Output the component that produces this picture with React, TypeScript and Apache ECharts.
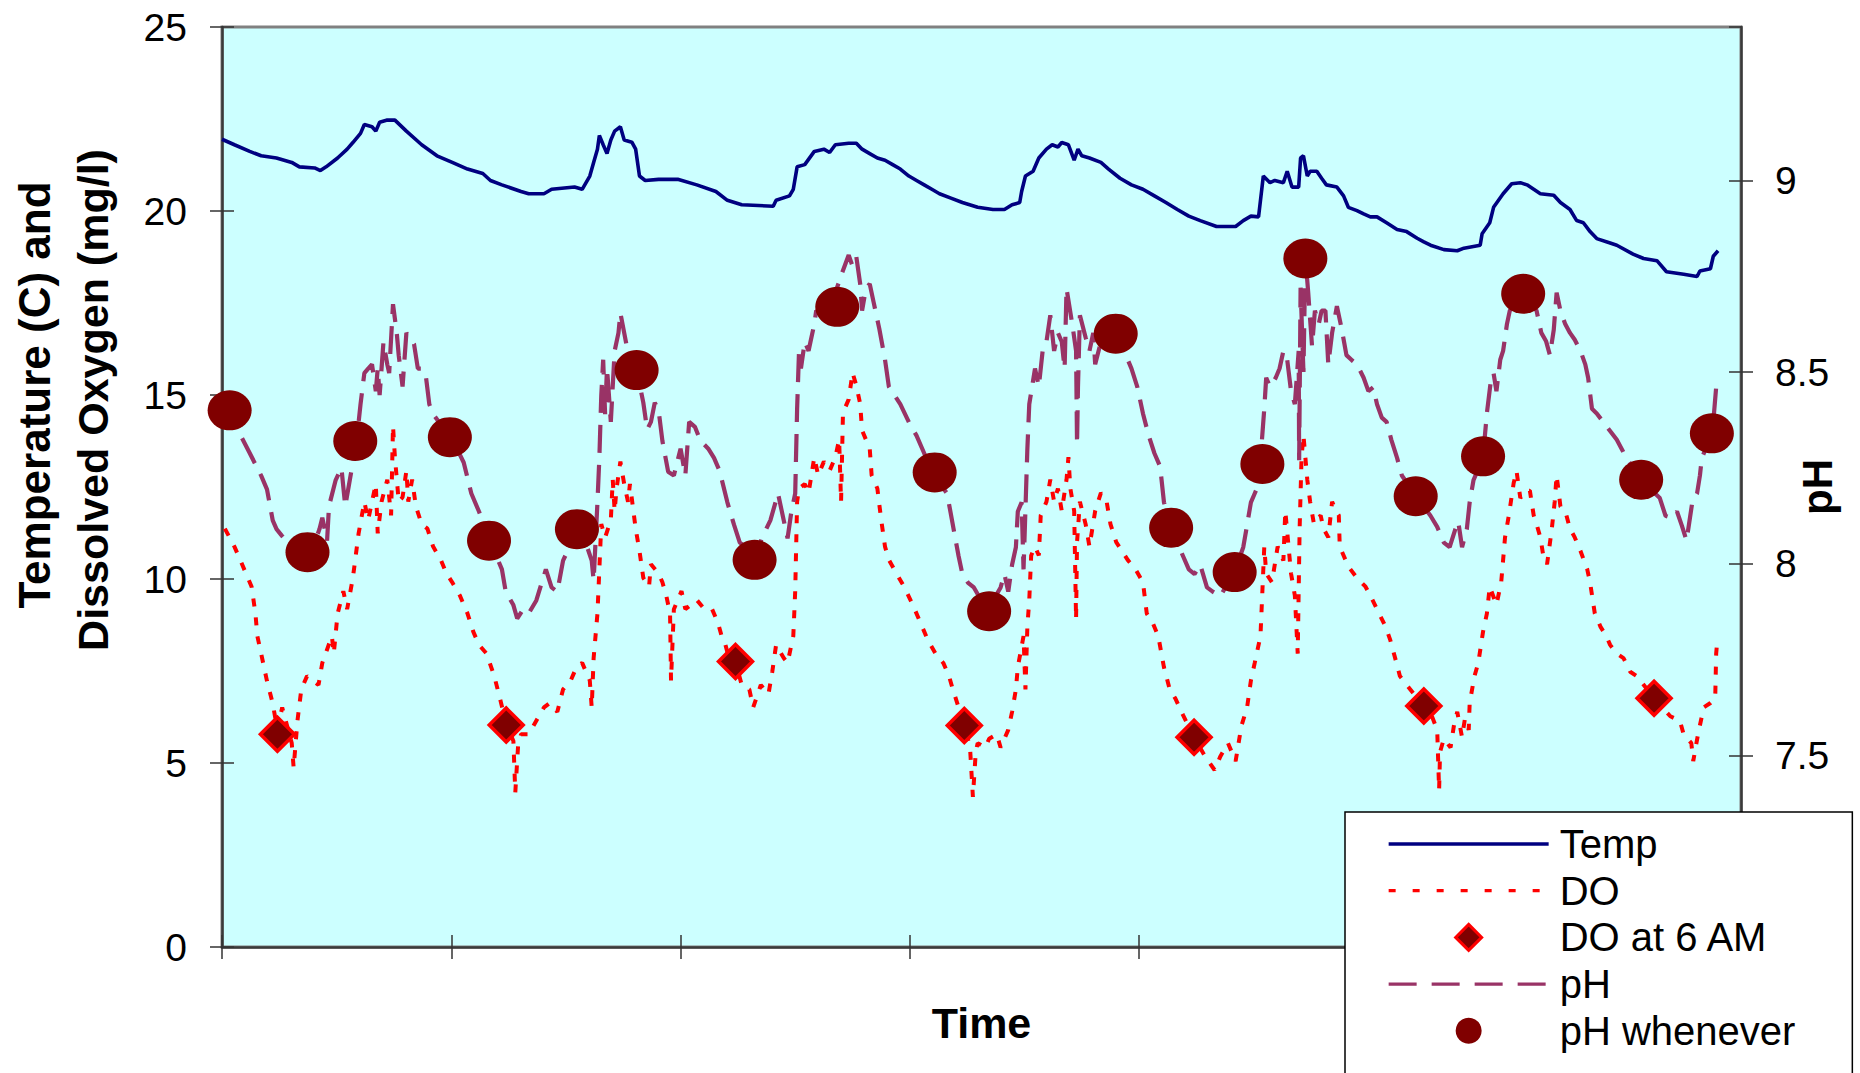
import React, { useEffect, useRef } from "react";
import * as echarts from "echarts";

// Time axis is in hours from the start of the record (one tick per day)
const dayTicks = [0, 24, 48, 72, 96, 120, 144];
const leftTicks = [0, 5, 10, 15, 20, 25];
const phTicks = [7.5, 8, 8.5, 9];

const seriesNames = ["Temp", "DO", "DO at 6 AM", "pH", "pH whenever"];

// Temperature (C): [hour, value]
const tempData: number[][] = [
  [0, 21.95], [1.3, 21.8], [2.9, 21.62], [4.1, 21.5], [5.7, 21.44], [7.3, 21.32], [8.1, 21.2], [9.7, 21.17],
  [10.3, 21.1], [10.9, 21.2], [12.1, 21.44], [13.1, 21.68], [13.7, 21.86], [14.5, 22.11], [14.9, 22.35],
  [15.7, 22.29], [16.1, 22.17], [16.5, 22.41], [17.3, 22.47], [18.1, 22.47], [19.3, 22.17], [20.9, 21.8],
  [22.5, 21.5], [24.1, 21.32], [25.7, 21.14], [27.3, 21.02], [28.1, 20.83], [29.3, 20.71], [31.3, 20.53],
  [32.1, 20.47], [33.7, 20.47], [34.5, 20.59], [36.9, 20.65], [37.7, 20.59], [38.5, 20.95], [38.9, 21.32],
  [39.3, 21.68], [39.5, 22.05], [39.9, 21.8], [40.3, 21.56], [40.7, 21.93], [41.1, 22.17], [41.7, 22.29],
  [42.1, 21.93], [42.9, 21.87], [43.3, 21.68], [43.7, 20.95], [44.3, 20.83], [45.7, 20.86], [47.7, 20.86],
  [49.7, 20.71], [51.7, 20.53], [52.9, 20.29], [54.4, 20.17], [57.7, 20.13], [58.0, 20.29], [59.4, 20.41],
  [59.8, 20.59], [60.2, 21.2], [61.0, 21.26], [62.0, 21.62], [63.0, 21.68], [63.6, 21.59], [64.2, 21.8],
  [65.6, 21.84], [66.4, 21.84], [67.0, 21.68], [67.8, 21.56], [68.6, 21.44], [69.4, 21.38], [70.2, 21.26],
  [71.0, 21.14], [71.9, 20.95], [72.7, 20.83], [73.5, 20.71], [74.3, 20.59], [75.1, 20.47], [76.3, 20.35],
  [77.5, 20.23], [79.1, 20.1], [80.7, 20.04], [81.9, 20.04], [82.7, 20.17], [83.5, 20.23], [83.7, 20.53],
  [84.1, 20.95], [84.9, 21.08], [85.5, 21.44], [86.3, 21.68], [86.9, 21.8], [87.5, 21.74], [87.9, 21.86],
  [88.6, 21.8], [89.2, 21.38], [89.6, 21.68], [90.0, 21.5], [90.8, 21.44], [92.0, 21.32], [92.8, 21.14],
  [94.0, 20.89], [95.2, 20.71], [96.4, 20.59], [97.6, 20.41], [98.8, 20.23], [100.0, 20.04], [101.2, 19.86],
  [102.4, 19.74], [104.1, 19.58], [106.1, 19.58], [106.9, 19.74], [107.7, 19.86], [108.5, 19.84],
  [109.0, 20.95], [109.7, 20.77], [110.2, 20.83], [111.1, 20.77], [111.5, 21.08], [112.0, 20.65],
  [112.7, 20.65], [112.9, 21.44], [113.2, 21.5], [113.6, 20.95], [113.9, 21.08], [114.6, 21.08],
  [115.1, 20.89], [115.6, 20.71], [116.7, 20.65], [117.4, 20.41], [117.9, 20.1], [118.8, 20.01],
  [119.5, 19.92], [120.2, 19.84], [120.9, 19.84], [121.9, 19.68], [123.0, 19.5], [124.0, 19.44],
  [125.1, 19.26], [125.8, 19.16], [126.5, 19.07], [127.9, 18.95], [129.3, 18.92], [130.0, 18.99],
  [131.7, 19.07], [131.9, 19.38], [132.7, 19.68], [133.1, 20.1], [134.1, 20.47], [135.0, 20.74],
  [135.9, 20.77], [136.6, 20.71], [137.3, 20.59], [138.0, 20.47], [139.4, 20.43], [140.1, 20.23],
  [141.1, 20.04], [141.8, 19.74], [142.5, 19.68], [143.2, 19.44], [143.9, 19.25], [145.3, 19.13],
  [146.0, 19.07], [147.7, 18.83], [148.8, 18.71], [150.2, 18.65], [151.2, 18.35], [153.0, 18.28],
  [154.4, 18.22], [154.7, 18.37], [155.8, 18.43], [156.1, 18.77], [156.6, 18.92],
];

// Dissolved oxygen (mg/l): [hour, value]
const doData: number[][] = [
  [0.3, 11.37], [1.3, 10.88], [2.1, 10.4], [3.1, 9.79], [3.5, 9.06], [3.7, 8.45], [4.1, 7.97], [4.7, 7.24],
  [5.3, 6.63], [5.8, 5.9], [6.3, 6.51], [7.3, 5.54], [7.5, 4.87], [7.9, 6.15], [8.3, 7.0], [8.9, 7.36],
  [10.1, 7.12], [10.5, 7.72], [11.5, 8.45], [11.7, 7.97], [12.1, 9.06], [12.7, 9.67], [13.1, 9.18],
  [13.7, 10.03], [14.3, 11.24], [14.9, 12.1], [15.3, 11.6], [15.7, 12.1], [16.1, 12.58], [16.3, 11.24],
  [16.7, 12.1], [17.3, 12.7], [17.7, 11.73], [17.9, 14.16], [18.1, 13.31], [18.5, 12.1], [18.9, 12.22],
  [19.3, 12.94], [19.5, 12.1], [19.9, 12.7], [20.3, 11.97], [20.9, 11.49], [21.5, 11.37], [22.1, 10.88],
  [22.9, 10.52], [23.5, 10.15], [24.1, 9.91], [24.9, 9.55], [25.7, 9.06], [26.3, 8.57], [26.9, 8.21],
  [27.7, 7.97], [28.5, 7.36], [29.1, 6.75], [29.75, 6.05], [30.5, 5.6], [30.7, 4.2], [31.0, 5.5],
  [31.3, 5.78], [32.1, 5.78], [32.9, 6.15], [33.7, 6.51], [34.3, 6.63], [35.1, 6.39], [35.7, 7.0],
  [36.5, 7.24], [37.1, 7.6], [37.7, 7.72], [38.5, 7.24], [38.7, 6.51], [38.9, 7.85], [39.3, 9.06],
  [39.5, 10.27], [39.7, 11.49], [40.1, 11.13], [40.7, 11.6], [40.9, 12.7], [41.1, 11.85], [41.3, 12.46],
  [41.7, 13.19], [42.1, 12.58], [42.5, 12.1], [42.7, 12.58], [43.3, 11.37], [43.7, 10.76], [44.1, 10.03],
  [44.7, 9.79], [44.9, 10.4], [45.7, 10.15], [46.1, 9.91], [46.5, 9.55], [46.9, 9.06], [47.0, 7.24],
  [47.3, 9.18], [48.1, 9.67], [48.5, 9.18], [49.1, 9.3], [49.7, 9.43], [50.5, 9.18], [51.3, 9.18],
  [51.9, 8.82], [52.3, 8.45], [52.7, 8.21], [53.2, 7.72], [53.75, 7.76], [54.4, 7.12], [55.2, 7.0],
  [55.6, 6.51], [56.4, 7.12], [57.2, 6.87], [57.6, 7.48], [58.0, 8.21], [58.8, 7.85], [59.2, 7.72],
  [59.8, 8.45], [60.0, 9.67], [60.2, 12.1], [60.4, 12.46], [61.0, 12.58], [61.4, 12.34], [62.0, 13.31],
  [62.4, 12.82], [63.0, 13.19], [63.6, 12.94], [64.2, 13.31], [64.6, 13.79], [64.8, 12.1], [65.0, 14.52],
  [65.6, 14.88], [66.0, 15.61], [66.4, 15.25], [66.8, 14.76], [67.0, 14.04], [67.4, 13.79], [67.8, 13.55],
  [68.0, 12.82], [68.6, 12.46], [69.0, 11.61], [69.4, 10.88], [69.8, 10.52], [70.6, 10.15], [71.4, 9.79],
  [72.3, 9.3], [73.1, 8.82], [73.9, 8.33], [74.7, 7.97], [75.5, 7.72], [76.1, 7.36], [76.5, 7.0],
  [77.7, 6.03], [78.3, 5.42], [78.6, 4.08], [78.9, 5.3], [79.1, 5.54], [79.9, 5.42], [80.3, 5.66],
  [81.1, 5.78], [81.5, 5.42], [82.3, 5.9], [82.7, 6.39], [83.1, 7.0], [83.3, 7.6], [83.9, 8.45], [84.1, 7.0],
  [84.3, 8.7], [84.5, 9.43], [84.7, 10.64], [85.1, 10.88], [85.5, 10.64], [85.7, 11.73], [86.3, 12.1],
  [86.7, 12.7], [87.1, 12.1], [87.5, 12.46], [87.9, 11.85], [88.4, 12.7], [88.6, 13.31], [88.8, 12.46],
  [89.2, 11.85], [89.4, 8.9], [89.5, 11.0], [89.8, 12.1], [90.4, 11.49], [90.8, 10.88], [91.4, 11.85],
  [92.0, 12.34], [92.6, 12.1], [93.0, 11.49], [93.6, 11.0], [94.2, 10.76], [94.8, 10.52], [95.6, 10.27],
  [96.4, 9.91], [96.8, 9.06], [97.4, 8.82], [98.0, 8.45], [98.6, 7.6], [99.2, 7.0], [99.8, 6.75],
  [100.6, 6.3], [101.75, 5.7], [102.9, 5.18], [103.9, 4.81], [104.5, 5.18], [105.3, 5.54], [106.1, 5.05],
  [106.7, 6.0], [107.3, 6.51], [107.7, 7.24], [108.1, 7.72], [108.7, 8.45], [109.1, 10.88], [109.3, 10.15],
  [109.9, 9.91], [110.5, 10.88], [111.1, 10.5], [111.3, 11.85], [111.9, 10.15], [112.3, 9.55], [112.6, 7.97],
  [112.8, 11.37], [113.0, 13.3], [113.2, 13.91], [113.6, 12.7], [113.9, 12.1], [114.3, 11.49], [114.6, 11.61],
  [115.0, 11.73], [115.3, 11.37], [115.8, 11.13], [116.2, 12.1], [116.6, 11.85], [116.9, 11.73], [117.0, 10.88],
  [117.6, 10.52], [118.1, 10.27], [118.8, 10.03], [119.7, 9.79], [120.2, 9.55], [120.9, 9.18], [121.8, 8.7],
  [122.3, 8.33], [122.8, 7.85], [123.3, 7.36], [124.0, 7.12], [125.0, 6.8], [125.8, 6.55], [126.6, 6.3],
  [127.2, 5.9], [127.4, 4.27], [127.5, 5.3], [127.9, 5.66], [128.6, 5.42], [129.0, 6.1], [129.3, 6.39],
  [129.8, 5.7], [130.1, 6.2], [130.5, 5.9], [130.6, 6.63], [131.1, 7.36], [131.5, 7.72], [132.0, 8.57],
  [132.4, 9.06], [132.7, 9.79], [133.4, 9.3], [133.9, 9.91], [134.3, 11.13], [134.7, 11.73], [135.2, 12.6],
  [135.5, 12.94], [135.9, 12.2], [136.4, 12.4], [136.9, 12.4], [137.3, 11.73], [137.6, 11.49], [138.0, 11.13],
  [138.3, 10.64], [138.7, 10.4], [139.2, 11.37], [139.5, 12.1], [139.7, 12.82], [140.1, 11.97], [140.6, 11.85],
  [141.1, 11.37], [141.6, 11.13], [142.2, 10.76], [142.9, 10.27], [143.2, 9.91], [143.7, 9.06], [144.3, 8.7],
  [144.9, 8.45], [145.3, 8.21], [146.0, 7.97], [146.7, 7.85], [147.4, 7.48], [148.1, 7.36], [149.9, 6.76],
  [151.6, 6.27], [152.6, 6.15], [153.0, 5.78], [153.8, 5.54], [154.0, 5.05], [154.5, 5.78], [155.1, 6.51],
  [155.8, 6.63], [156.3, 6.75], [156.4, 7.97], [156.5, 8.27],
];

// DO at 6 AM
const do6amHours = [5.8, 29.75, 53.75, 77.7, 101.75, 125.8, 149.9];
const do6amValues = [5.78, 6.03, 7.76, 6.02, 5.7, 6.55, 6.76];

// pH: [hour, value]
const phData: number[][] = [
  [0.2, 8.42], [1.71, 8.346], [2.91, 8.288], [4.11, 8.229], [4.71, 8.194], [5.31, 8.113], [5.71, 8.09],
  [6.3, 8.072], [6.9, 8.055], [8.0, 8.03], [9.5, 8.04], [10.2, 8.09], [10.5, 8.12], [11.0, 8.06], [11.2, 8.15],
  [11.9, 8.218], [12.5, 8.25], [12.9, 8.15], [13.7, 8.264], [14.3, 8.369], [14.5, 8.416], [14.9, 8.497],
  [15.3, 8.509], [15.7, 8.52], [16.1, 8.45], [16.3, 8.509], [16.5, 8.44], [16.9, 8.578], [17.3, 8.52],
  [17.5, 8.497], [17.9, 8.677], [18.3, 8.6], [18.5, 8.543], [18.9, 8.462], [19.3, 8.602], [20.1, 8.573],
  [20.5, 8.509], [20.9, 8.509], [21.3, 8.497], [21.7, 8.416], [22.1, 8.39], [23.0, 8.36], [24.0, 8.33],
  [25.3, 8.264], [26.1, 8.183], [26.9, 8.136], [28.0, 8.063], [29.3, 7.985], [29.7, 7.927], [30.5, 7.892],
  [30.9, 7.857], [31.5, 7.88], [32.1, 7.87], [32.9, 7.904], [33.9, 7.985], [34.5, 7.938], [35.1, 7.927],
  [35.7, 8.008], [36.3, 8.04], [37.1, 8.09], [38.0, 8.06], [38.7, 8.008], [38.9, 7.956], [39.3, 8.16],
  [39.5, 8.276], [39.7, 8.439], [39.9, 8.532], [40.1, 8.39], [40.3, 8.51], [40.7, 8.37], [41.1, 8.555],
  [41.5, 8.602], [41.7, 8.654], [42.5, 8.55], [43.4, 8.506], [44.1, 8.42], [44.5, 8.35], [44.9, 8.37],
  [45.3, 8.42], [45.7, 8.4], [46.1, 8.32], [46.7, 8.24], [47.3, 8.23], [48.0, 8.3], [48.5, 8.23], [48.9, 8.37],
  [49.5, 8.357], [50.1, 8.32], [50.9, 8.3], [51.5, 8.276], [52.1, 8.241], [52.9, 8.16], [53.6, 8.101],
  [54.2, 8.055], [55.0, 8.04], [55.75, 8.012], [56.5, 8.066], [57.4, 8.113], [58.2, 8.183], [58.8, 8.113],
  [59.2, 8.066], [59.6, 8.136], [60.0, 8.183], [60.2, 8.404], [60.4, 8.555], [60.6, 8.509], [61.0, 8.579],
  [61.4, 8.555], [61.6, 8.579], [62.0, 8.625], [62.2, 8.66], [63.0, 8.648], [63.6, 8.625], [64.2, 8.707],
  [65.0, 8.765], [65.6, 8.805], [66.0, 8.776], [66.4, 8.8], [66.8, 8.73], [67.0, 8.66], [67.4, 8.718],
  [67.8, 8.73], [68.2, 8.683], [68.8, 8.613], [69.4, 8.532], [69.8, 8.462], [70.4, 8.439], [71.0, 8.416],
  [71.9, 8.369], [72.7, 8.334], [73.5, 8.288], [74.3, 8.239], [75.9, 8.183], [76.5, 8.101], [77.1, 8.02],
  [77.5, 7.973], [78.1, 7.95], [78.7, 7.938], [80.1, 7.877], [81.5, 7.938], [81.9, 7.973], [82.3, 7.927],
  [82.7, 7.997], [83.1, 8.043], [83.3, 8.136], [83.7, 8.16], [83.9, 7.985], [84.3, 8.299], [84.5, 8.416],
  [85.1, 8.509], [85.5, 8.462], [85.9, 8.555], [86.3, 8.579], [86.7, 8.648], [87.1, 8.555], [87.5, 8.602],
  [87.9, 8.579], [88.2, 8.509], [88.4, 8.718], [89.0, 8.625], [89.4, 8.555], [89.5, 8.31], [89.6, 8.462],
  [89.8, 8.648], [90.4, 8.59], [90.8, 8.555], [91.2, 8.602], [91.4, 8.52], [92.0, 8.579], [93.4, 8.6],
  [94.6, 8.544], [95.2, 8.509], [95.8, 8.462], [96.4, 8.392], [97.0, 8.334], [97.6, 8.288], [98.2, 8.253],
  [98.6, 8.16], [99.0, 8.125], [100.4, 8.031], [101.2, 7.985], [101.8, 7.973], [102.4, 7.997], [103.1, 7.938],
  [103.7, 7.927], [104.5, 7.915], [106.0, 7.98], [106.9, 8.043], [107.3, 8.101], [107.7, 8.16], [108.1, 8.183],
  [108.5, 8.206], [109.1, 8.404], [109.3, 8.485], [109.7, 8.462], [110.3, 8.485], [110.7, 8.509],
  [111.1, 8.555], [111.5, 8.532], [111.9, 8.45], [112.3, 8.416], [112.7, 8.555], [112.75, 8.27], [112.9, 8.72],
  [113.2, 8.5], [113.4, 8.8], [113.7, 8.707], [114.1, 8.567], [114.4, 8.66], [114.8, 8.625], [115.1, 8.66],
  [115.5, 8.66], [115.8, 8.52], [116.2, 8.602], [116.7, 8.672], [117.2, 8.613], [117.7, 8.544], [118.3, 8.53],
  [118.8, 8.52], [119.5, 8.485], [120.0, 8.45], [120.5, 8.46], [120.9, 8.416], [121.4, 8.381], [121.9, 8.37],
  [122.4, 8.323], [123.0, 8.276], [123.5, 8.23], [125.0, 8.176], [126.5, 8.125], [127.2, 8.096], [127.9, 8.055],
  [128.5, 8.043], [129.1, 8.09], [129.4, 8.11], [129.8, 8.043], [130.3, 8.09], [130.6, 8.16], [131.0, 8.218],
  [131.4, 8.241], [132.0, 8.28], [132.4, 8.392], [132.8, 8.474], [133.1, 8.497], [133.4, 8.45], [133.8, 8.532],
  [134.1, 8.555], [134.5, 8.625], [134.8, 8.66], [136.2, 8.703], [137.6, 8.66], [138.1, 8.602], [138.6, 8.58],
  [139.0, 8.544], [139.4, 8.61], [139.7, 8.707], [140.1, 8.66], [140.6, 8.625], [141.1, 8.602], [141.6, 8.584],
  [142.2, 8.555], [142.7, 8.52], [143.0, 8.485], [143.4, 8.404], [143.9, 8.392], [144.6, 8.369], [145.3, 8.346],
  [146.0, 8.323], [146.5, 8.3], [147.0, 8.276], [148.55, 8.219], [150.5, 8.171], [151.1, 8.125], [151.8, 8.119],
  [152.3, 8.136], [152.8, 8.1], [153.3, 8.06], [153.9, 8.16], [154.4, 8.183], [154.7, 8.23], [154.9, 8.276],
  [156.0, 8.34], [156.4, 8.46],
];

// pH whenever (spot readings)
const phSpotHours = [0.8, 8.95, 13.95, 23.85, 27.95, 37.15, 43.4, 55.75, 64.4, 74.6, 80.3, 93.55, 99.35, 106.0, 108.9, 113.4, 124.95, 132.0, 136.2, 148.55, 155.95];
const phSpotValues = [8.4, 8.03, 8.32, 8.33, 8.06, 8.09, 8.505, 8.01, 8.67, 8.238, 7.876, 8.6, 8.094, 7.978, 8.26, 8.796, 8.176, 8.28, 8.704, 8.219, 8.34];

const FONT = "'Liberation Sans', Arial, sans-serif";

export default function App() {
  const ref = useRef<HTMLDivElement>(null);

  useEffect(() => {
    if (!ref.current) return;
    const chart = echarts.init(ref.current, null, { renderer: "svg" });

    const tickStyle = { color: "#333", width: 1.5 };
    const axisLineStyle = { color: "#3a3a3a", width: 2.5 };

    const option: any = {
      animation: false,
      backgroundColor: "#ffffff",
      textStyle: { fontFamily: FONT },
      grid: {
        left: 222,
        top: 27,
        width: 1519,
        height: 920,
        show: true,
        backgroundColor: "#CCFFFF",
        borderColor: "#808080",
        borderWidth: 3,
      },
      xAxis: [
        {
          type: "value",
          position: "bottom",
          min: dayTicks[0],
          max: 159,
          interval: 24,
          axisLine: { show: true, lineStyle: axisLineStyle },
          axisTick: { show: true, inside: false, length: 12, lineStyle: tickStyle, customValues: dayTicks },
          axisLabel: { show: false },
          splitLine: { show: false },
          name: "Time",
          nameLocation: "middle",
          nameGap: 54,
          nameTextStyle: { fontSize: 43, fontWeight: "bold", color: "#000", fontFamily: FONT },
        },
        {
          type: "value",
          position: "bottom",
          min: dayTicks[0],
          max: 159,
          interval: 24,
          axisLine: { show: false },
          axisTick: { show: true, inside: true, length: 12, lineStyle: tickStyle, customValues: dayTicks },
          axisLabel: { show: false },
          splitLine: { show: false },
        },
      ],
      yAxis: [
        {
          type: "value",
          position: "left",
          min: leftTicks[0],
          max: leftTicks[leftTicks.length - 1],
          interval: 5,
          axisLine: { show: true, lineStyle: axisLineStyle },
          axisTick: { show: true, inside: false, length: 12, lineStyle: tickStyle },
          axisLabel: { fontSize: 39, color: "#000", margin: 35, fontFamily: FONT },
          splitLine: { show: false },
        },
        {
          type: "value",
          position: "left",
          min: leftTicks[0],
          max: leftTicks[leftTicks.length - 1],
          interval: 5,
          axisLine: { show: false },
          axisTick: { show: true, inside: true, length: 12, lineStyle: tickStyle },
          axisLabel: { show: false },
          splitLine: { show: false },
        },
        {
          type: "value",
          position: "right",
          min: 7,
          max: 9.4,
          interval: 0.5,
          axisLine: { show: true, lineStyle: axisLineStyle },
          axisTick: { show: true, inside: false, length: 12, lineStyle: tickStyle },
          axisLabel: {
            fontSize: 39,
            color: "#000",
            margin: 34,
            fontFamily: FONT,
            showMaxLabel: false,
            formatter: (v: number) => (phTicks.some((t) => Math.abs(t - v) < 1e-6) ? String(v) : ""),
          },
          splitLine: { show: false },
        },
        {
          type: "value",
          position: "right",
          min: 7,
          max: 9.4,
          interval: 0.5,
          axisLine: { show: false },
          axisTick: { show: true, inside: true, length: 12, lineStyle: tickStyle },
          axisLabel: { show: false },
          splitLine: { show: false },
        },
      ],
      legend: {
        orient: "vertical",
        left: 1345,
        top: 812,
        height: 320,
        padding: [12, 57, 40, 42],
        itemWidth: 160,
        itemHeight: 26,
        itemGap: 6.7,
        selectedMode: false,
        symbolKeepAspect: true,
        backgroundColor: "#ffffff",
        borderColor: "#000000",
        borderWidth: 1.5,
        borderRadius: 0,
        textStyle: { fontSize: 40, color: "#000", fontFamily: FONT, lineHeight: 40, padding: [0, 0, 0, 6] },
        data: [
          {
            name: seriesNames[0],
            itemStyle: { opacity: 0, color: "rgba(0,0,0,0)", borderWidth: 0 },
            lineStyle: { color: "#000080", width: 3.3, type: "solid" },
          },
          {
            name: seriesNames[1],
            itemStyle: { opacity: 0, color: "rgba(0,0,0,0)", borderWidth: 0 },
            lineStyle: { color: "#FF0000", width: 3.3, type: [7, 17] },
          },
          {
            name: seriesNames[2],
            icon: "path://M0,-1L1,0L0,1L-1,0Z",
            itemStyle: { color: "#800000", borderColor: "#FF0000", borderWidth: 3 },
          },
          {
            name: seriesNames[3],
            itemStyle: { opacity: 0, color: "rgba(0,0,0,0)", borderWidth: 0 },
            lineStyle: { color: "#993366", width: 3.3, type: [28, 15] },
          },
          {
            name: seriesNames[4],
            icon: "circle",
            itemStyle: { color: "#800000", borderWidth: 0 },
          },
        ],
      },
      graphic: [
        {
          type: "text",
          x: 34,
          y: 395,
          rotation: Math.PI / 2,
          style: {
            text: "Temperature (C) and",
            font: `bold 44px ${FONT}`,
            fill: "#000",
            textAlign: "center",
            textVerticalAlign: "middle",
          },
        },
        {
          type: "text",
          x: 93,
          y: 400,
          rotation: Math.PI / 2,
          style: {
            text: "Dissolved Oxygen (mg/l)",
            font: `bold 43px ${FONT}`,
            fill: "#000",
            textAlign: "center",
            textVerticalAlign: "middle",
          },
        },
        {
          type: "text",
          x: 1817,
          y: 487,
          rotation: Math.PI / 2,
          style: {
            text: "pH",
            font: `bold 42px ${FONT}`,
            fill: "#000",
            textAlign: "center",
            textVerticalAlign: "middle",
          },
        },
      ],
      series: [
        {
          name: seriesNames[0],
          type: "line",
          xAxisIndex: 0,
          yAxisIndex: 0,
          data: tempData,
          symbol: "none",
          showSymbol: false,
          lineStyle: { color: "#000080", width: 3.6 },
          itemStyle: { color: "#000080" },
          z: 3,
        },
        {
          name: seriesNames[1],
          type: "line",
          xAxisIndex: 0,
          yAxisIndex: 0,
          data: doData,
          symbol: "none",
          showSymbol: false,
          lineStyle: { color: "#FF0000", width: 4, type: [8, 11] },
          itemStyle: { color: "#FF0000" },
          z: 3,
        },
        {
          name: seriesNames[3],
          type: "line",
          xAxisIndex: 0,
          yAxisIndex: 2,
          data: phData,
          symbol: "none",
          showSymbol: false,
          lineStyle: { color: "#993366", width: 4.2, type: [28, 12] },
          itemStyle: { color: "#993366" },
          z: 3,
        },
        {
          name: seriesNames[2],
          type: "scatter",
          xAxisIndex: 0,
          yAxisIndex: 0,
          data: do6amHours.map((h, i) => [h, do6amValues[i]]),
          symbol: "diamond",
          symbolSize: 34,
          itemStyle: { color: "#800000", borderColor: "#FF0000", borderWidth: 3.5, opacity: 1 },
          z: 5,
        },
        {
          name: seriesNames[4],
          type: "scatter",
          xAxisIndex: 0,
          yAxisIndex: 2,
          data: phSpotHours.map((h, i) => [h, phSpotValues[i]]),
          symbol: "circle",
          symbolSize: [44, 40],
          itemStyle: { color: "#800000", opacity: 1 },
          z: 5,
        },
      ],
    };

    chart.setOption(option);
    return () => chart.dispose();
  }, []);

  return (
    <div
      ref={ref}
      style={{ position: "fixed", left: 0, top: 0, width: 1860, height: 1073, background: "#ffffff" }}
    />
  );
}
